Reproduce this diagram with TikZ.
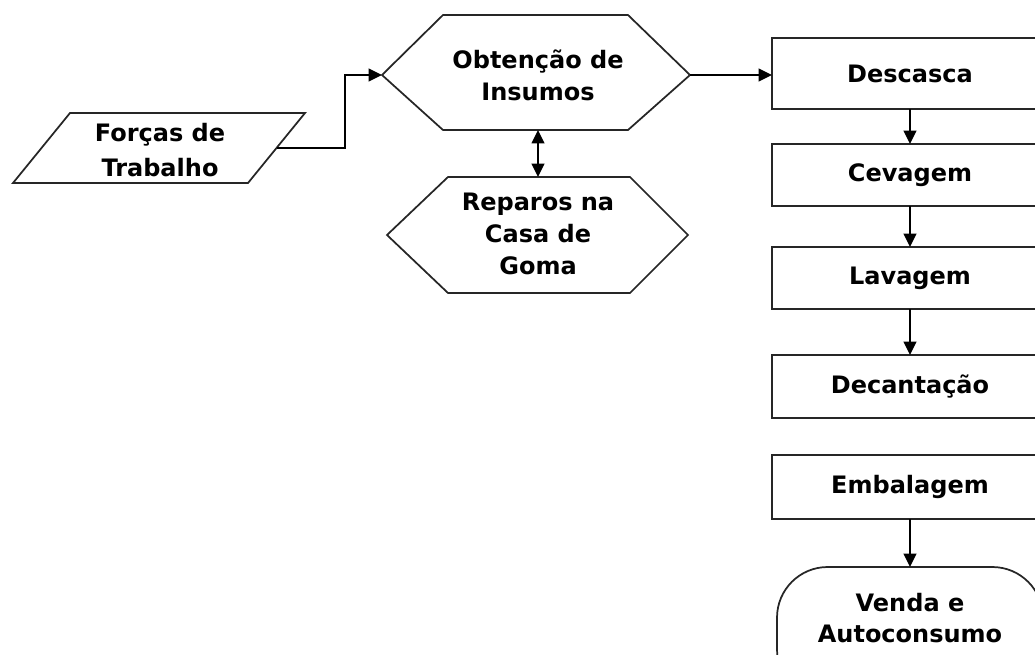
\documentclass[tikz,border=0pt]{standalone}
\usepackage{fontspec}
\setmainfont{DejaVu Sans}
\usetikzlibrary{arrows.meta}
\begin{document}
\begin{tikzpicture}[x=0.75pt,y=-0.75pt,
  shp/.style={draw=black!85, line width=1.3pt, fill=white},
  lbl/.style={font=\bfseries\fontsize{18}{24}\selectfont, align=center, inner sep=0pt},
  arr/.style={-{Triangle[length=10pt,width=9.5pt]}, line width=1.2pt, draw=black},
  darr/.style={{Triangle[length=10pt,width=9.5pt]}-{Triangle[length=10pt,width=9.5pt]}, line width=1.2pt, draw=black}]
\useasboundingbox (0,0) rectangle (1035,654);
\clip (0,0) rectangle (1035,654);
\fill[white] (0,0) rectangle (1035,654);

% Forças de Trabalho (parallelogram)
\draw[shp] (70,113) -- (305,113) -- (248,183) -- (13,183) -- cycle;
\coordinate (forcasR) at (276.5,148);
\node[lbl, font=\bfseries\fontsize{18}{26}\selectfont] (forcas) at (160,150) {Forças de\\Trabalho};

% Obtenção de Insumos (hexagon)
\draw[shp] (443,15) -- (628,15) -- (690,75) -- (628,130) -- (443,130) -- (382,75) -- cycle;
\coordinate (obtL) at (382,75);
\coordinate (obtR) at (690,75);
\coordinate (obtB) at (538,130);
\node[lbl] (obt) at (538,75) {Obtenção de\\Insumos};

% Reparos na Casa de Goma (hexagon)
\draw[shp] (448,177) -- (630,177) -- (688,235) -- (630,293) -- (448,293) -- (387,235) -- cycle;
\coordinate (repT) at (538,177);
\node[lbl] (rep) at (538,234) {Reparos na\\Casa de\\Goma};

% Process boxes
\draw[shp] (772,38) rectangle (1048,109);
\node[lbl] (desc) at (910,74) {Descasca};
\draw[shp] (772,144) rectangle (1048,206);
\node[lbl] (cev) at (910,175) {Cevagem};
\draw[shp] (772,247) rectangle (1048,309);
\node[lbl] (lav) at (910,278) {Lavagem};
\draw[shp] (772,355) rectangle (1048,418);
\node[lbl] (dec) at (910,387) {Decantação};
\draw[shp] (772,455) rectangle (1048,519);
\node[lbl] (emb) at (910,487) {Embalagem};

% Terminal
\draw[shp, rounded corners=38pt] (777,567) rectangle (1043,700);
\node[lbl, font=\bfseries\fontsize{18}{23}\selectfont] (venda) at (910,618) {Venda e\\Autoconsumo};

\coordinate (descL) at (772,75);
\coordinate (descB) at (910,109);
\coordinate (cevT) at (910,144);
\coordinate (cevB) at (910,206);
\coordinate (lavT) at (910,247);
\coordinate (lavB) at (910,309);
\coordinate (decT) at (910,355);
\coordinate (embB) at (910,519);
\coordinate (vendaT) at (910,567);

% Connectors
\draw[arr] (forcasR) -- (345,148) |- (obtL);
\draw[arr] (obtR) -- (descL);
\draw[darr] (obtB) -- (repT);
\draw[arr] (descB) -- (cevT);
\draw[arr] (cevB) -- (lavT);
\draw[arr] (lavB) -- (decT);
\draw[arr] (embB) -- (vendaT);
\end{tikzpicture}
\end{document}
